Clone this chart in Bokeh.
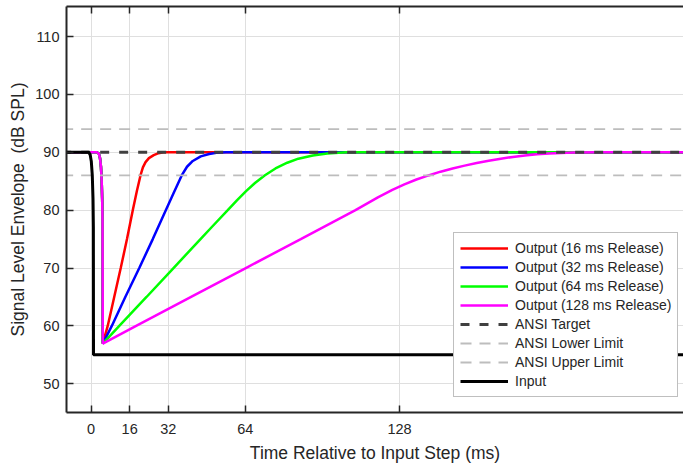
from bokeh.plotting import figure
from bokeh.models import (Range1d, LinearAxis, FixedTicker, Legend, LegendItem,
                          CustomLabelingPolicy)
from bokeh.embed import file_html
from bokeh.resources import INLINE

# ---- data ----
x_ticks = [0, 16, 32, 64, 128]
y_ticks = [50, 60, 70, 80, 90, 100, 110]

# input step
input_t = [-12, -1.0, -0.4, 0.1, 0.5, 0.8, 0.95, 1.0, 250]
input_db = [90, 90, 89.6, 88.4, 86.0, 82.0, 77.0, 55.0, 55.0]

# common attack part of all outputs
attack_t = [-12, 2.4, 3.2, 3.7, 4.1, 4.4, 4.6, 4.75]
attack_db = [90, 90, 89.8, 89.0, 87.5, 85.0, 82.0, 78.0]

# release parts (start at the common minimum)
red_t = [4.87, 6.9, 9.6, 12.3, 14.9, 17.3, 19.0, 20.5, 21.5, 22.6, 24.0, 26.0, 28.0, 30.0, 250]
red_db = [56.95, 60, 65, 70, 75, 80, 83.3, 86.0, 87.4, 88.3, 89.0, 89.5, 89.85, 90, 90]

blue_t = [4.87, 8.6, 14.2, 20.0, 25.6, 31.0, 34.3, 37.6, 39.8, 42.2, 45.5, 49.0, 52.0, 56.0, 250]
blue_db = [56.95, 60, 65, 70, 75, 80, 83.0, 86.0, 87.5, 88.5, 89.3, 89.7, 89.9, 90, 90]

green_t = [4.87, 11.7, 23.0, 34.2, 45.4, 50.0, 56.7, 60.5, 64.3, 68.0, 72.0, 76.5, 81.4,
           86.0, 92.0, 98.0, 106.0, 250]
green_db = [56.95, 60, 65, 70, 75, 77.05, 80, 81.7, 83.3, 84.7, 86.0, 87.2, 88.2,
            88.9, 89.45, 89.8, 90, 90]

magenta_t = [4.87, 18.7, 41.5, 64.2, 87.0, 109.7, 119.0, 125.0, 130.0, 135.0, 140.0, 145.0,
             150.0, 155.0, 160.0, 165.0, 170.0, 175.0, 180.0, 185.0, 190.0, 200.0, 210.0, 250]
magenta_db = [56.95, 60, 65, 70, 75, 80, 82.2, 83.5, 84.45, 85.3, 86.0, 86.65,
              87.2, 87.7, 88.15, 88.55, 88.9, 89.2, 89.45, 89.65, 89.8, 89.95, 90, 90]

limit_t = [-12, 250]
target_db = [90, 90]
lower_db = [86, 86]
upper_db = [94, 94]

labels = ["Output (16 ms Release)", "Output (32 ms Release)", "Output (64 ms Release)",
          "Output (128 ms Release)", "ANSI Target", "ANSI Lower Limit", "ANSI Upper Limit", "Input"]

FONT = "Liberation Sans"
TXT = "#262626"

p = figure(width=683, height=466, output_backend="svg", toolbar_location=None,
           x_range=Range1d(-10.2, 245.8), y_range=Range1d(45.04, 115.19),
           min_border_left=66, min_border_right=0, min_border_top=6, min_border_bottom=54)
p.outline_line_color = None
p.background_fill_color = "white"
p.border_fill_color = "white"

xt_ticker = FixedTicker(ticks=x_ticks)
yt_ticker = FixedTicker(ticks=y_ticks)

xb = p.xaxis[0]
yl = p.yaxis[0]
xb.ticker = xt_ticker
yl.ticker = yt_ticker
p.xgrid.ticker = xt_ticker
p.ygrid.ticker = yt_ticker
for g in (p.xgrid, p.ygrid):
    g.grid_line_color = "#dfdfdf"
    g.grid_line_width = 1

xtop = LinearAxis(ticker=xt_ticker)
p.add_layout(xtop, "above")

for ax in (xb, yl, xtop):
    ax.axis_line_width = 2
    ax.axis_line_color = TXT
    ax.major_tick_in = 7
    ax.major_tick_out = 0
    ax.major_tick_line_color = TXT
    ax.major_tick_line_width = 1.5
    ax.minor_tick_line_color = None
    ax.major_label_text_font = FONT
    ax.major_label_text_font_size = "14.5px"
    ax.major_label_text_color = TXT

# top axis: only the frame line and inward ticks, no labels
xtop.major_label_text_font_size = "1px"
xtop.major_label_standoff = 0
xtop.major_label_policy = CustomLabelingPolicy(code="""
for (const i of indices)
  indices.unset(i)
""")

xb.major_label_standoff = 11
yl.major_label_standoff = 7
xb.axis_label = "Time Relative to Input Step (ms)"
yl.axis_label = "Signal Level Envelope\u00a0 (dB SPL)"
for ax in (xb, yl):
    ax.axis_label_text_font = FONT
    ax.axis_label_text_font_size = "17.5px"
    ax.axis_label_text_font_style = "normal"
    ax.axis_label_text_color = TXT
xb.axis_label_standoff = 6
yl.axis_label_standoff = 4

r_red = p.line(attack_t + red_t, attack_db + red_db, line_color="#ff0000", line_width=2.5)
r_blue = p.line(attack_t + blue_t, attack_db + blue_db, line_color="#0000ff", line_width=2.5)
r_green = p.line(attack_t + green_t, attack_db + green_db, line_color="#00ff00", line_width=2.5)
r_mag = p.line(attack_t + magenta_t, attack_db + magenta_db, line_color="#ff00ff", line_width=2.5)
r_target = p.line(limit_t, target_db, line_color="#404040", line_width=3, line_dash="9 10")
r_lower = p.line(limit_t, lower_db, line_color="#bdbdbd", line_width=1.8, line_dash="11 8")
r_upper = p.line(limit_t, upper_db, line_color="#bdbdbd", line_width=1.8, line_dash="11 8")
r_input = p.line(input_t, input_db, line_color="#000000", line_width=3)

rends = [r_red, r_blue, r_green, r_mag, r_target, r_lower, r_upper, r_input]
legend = Legend(items=[LegendItem(label=l, renderers=[r]) for l, r in zip(labels, rends)],
                location=(387, 15))
legend.label_text_font = FONT
legend.label_text_font_size = "14px"
legend.label_text_color = TXT
legend.glyph_width = 48
legend.glyph_height = 18
legend.label_height = 18
legend.label_standoff = 7
legend.spacing = 1
legend.padding = 6
legend.margin = 0
legend.border_line_color = "#808080"
legend.border_line_width = 1.5
legend.background_fill_color = "white"
legend.background_fill_alpha = 1.0
p.add_layout(legend)

open("out.html", "w").write(file_html(p, INLINE))
